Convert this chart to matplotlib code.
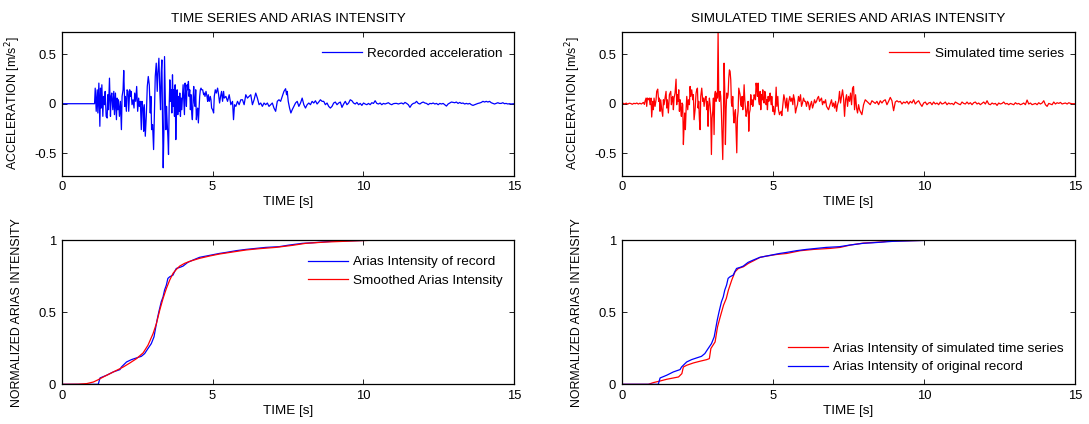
import numpy as np
import matplotlib
matplotlib.use("Agg")
import matplotlib.pyplot as plt

plt.rcParams["font.family"] = ["Liberation Sans", "DejaVu Sans"]
plt.rcParams["axes.unicode_minus"] = False

# ---------------------------------------------------------------- data
# Recorded acceleration [m/s^2]: strong-motion part (explicit times)
rec_t = [0.0, 1.088, 1.110, 1.143, 1.176, 1.198, 1.231, 1.264, 1.286, 1.308, 1.330, 1.363, 1.385,
         1.418, 1.440, 1.473, 1.506, 1.528, 1.550, 1.583, 1.616, 1.638, 1.660, 1.693, 1.726, 1.748,
         1.781, 1.814, 1.836, 1.858, 1.880, 1.913, 1.946, 1.979, 2.001, 2.034, 2.056, 2.089, 2.111,
         2.144, 2.166, 2.199, 2.221, 2.254, 2.276, 2.298, 2.331, 2.364, 2.397, 2.419, 2.452, 2.485,
         2.518, 2.551, 2.573, 2.606, 2.639, 2.661, 2.694, 2.716, 2.738, 2.771, 2.804, 2.837, 2.870,
         2.903, 2.936, 2.958, 2.980, 3.013, 3.046, 3.068, 3.101, 3.134,
         3.167, 3.189, 3.222, 3.255, 3.277, 3.299, 3.321, 3.343, 3.365, 3.387, 3.409, 3.431, 3.453,
         3.475, 3.497, 3.519, 3.541, 3.563, 3.585, 3.607, 3.629, 3.651, 3.673, 3.695, 3.717, 3.739,
         3.761, 3.783, 3.805, 3.827, 3.849, 3.871, 3.893, 3.915, 3.937, 3.959, 3.981, 4.003, 4.025,
         4.047, 4.069, 4.091, 4.113, 4.135, 4.157, 4.179, 4.201, 4.223, 4.245, 4.267, 4.289, 4.311,
         4.333, 4.355, 4.377, 4.399, 4.421, 4.443, 4.465, 4.487, 4.509, 4.531, 4.553, 4.575, 4.597,
         4.619, 4.641, 4.674, 4.707, 4.729, 4.751, 4.784, 4.817, 4.839, 4.861, 4.894, 4.927, 4.949,
         4.971, 5.004, 5.037, 5.059, 5.092, 5.125, 5.169, 5.202, 5.235, 5.268, 5.301, 5.334, 5.367,
         5.389, 5.444, 5.499, 5.554, 5.609, 5.664, 5.697, 5.730, 5.774, 5.829, 5.884, 5.939, 5.994,
         6.049, 6.104, 6.159, 6.214, 6.269, 6.324, 6.379, 6.434, 6.489, 6.544, 6.599, 6.654, 6.709,
         6.764, 6.819, 6.874, 6.929, 6.984, 7.039, 7.094, 7.149, 7.204, 7.259, 7.314, 7.369, 7.424,
         7.457, 7.479, 7.512, 7.556, 7.600, 7.644, 7.699, 7.754, 7.809, 7.864, 7.919, 7.974, 8.029]
rec_a = [0.0, 0.0, 0.158, -0.077, 0.141, -0.094, 0.209, -0.229, 0.158, -0.044, 0.192, -0.128, 0.074,
         -0.010, 0.125, -0.128, -0.145, 0.091, -0.061, 0.259, -0.128, 0.074, 0.108, -0.061, 0.125, -0.111,
         0.108, -0.162, 0.057, -0.061, 0.040, -0.128, 0.024, -0.263, 0.074, 0.141, 0.337, -0.027, 0.074,
         -0.077, 0.141, 0.125, -0.077, 0.141, 0.074, 0.125, -0.010, 0.040, -0.044, 0.108, 0.024, 0.175,
         -0.077, 0.057, -0.027, 0.024, -0.263, 0.024, -0.044, -0.279, -0.010, -0.330, -0.128, 0.175, 0.276,
         0.192, -0.094, 0.074, -0.263, -0.212, -0.465, -0.178, 0.276, 0.411,
         0.125, 0.310, 0.461, 0.108, -0.061, 0.310, 0.444, -0.162, -0.650, -0.296, 0.478, 0.074, -0.263,
         -0.027, -0.195, -0.330, -0.515, -0.027, 0.242, 0.024, 0.141, -0.094, 0.293, -0.027, 0.141, -0.128,
         0.192, -0.364, 0.007, 0.141, -0.111, 0.074, -0.077, 0.108, -0.128, 0.057, -0.061, 0.074, 0.192,
         0.040, -0.111, 0.209, 0.108, -0.027, 0.192, 0.141, 0.226, 0.074, 0.141, -0.061, 0.091, -0.094,
         -0.162, 0.040, 0.175, 0.007, -0.027, 0.141, -0.162, -0.077, -0.044, -0.195, -0.061, 0.074, 0.141,
         0.158, 0.141, 0.141, 0.091, 0.108, 0.074, 0.125, 0.074, 0.024, 0.091, 0.024, 0.074, 0.040,
         -0.044, -0.061, -0.094, 0.074, 0.141, 0.108, 0.158, 0.091, 0.007, 0.074, 0.125, 0.024, 0.125,
         0.057, 0.074, 0.024, 0.091, -0.010, 0.024, -0.162, -0.010, -0.027, 0.024, -0.010, 0.040, 0.040,
         -0.010, 0.091, 0.057, 0.074, 0.091, -0.010, 0.040, 0.108, 0.057, -0.010, 0.007, -0.027, 0.007,
         -0.010, 0.007, -0.027, -0.010, 0.007, -0.044, -0.077, 0.024, 0.040, 0.024, 0.074, 0.125, 0.152,
         0.091, 0.125, 0.024, -0.044, -0.094, -0.061, -0.027, 0.007, 0.024, -0.027, 0.007, 0.057, -0.010]

# Recorded acceleration: low-amplitude coda, equally spaced from 8.08 s to 14.90 s
rec_tail_start, rec_tail_end = 8.084, 14.904
rec_tail = [-0.044, -0.010, 0.007, -0.010, 0.024, 0.007, 0.030, -0.003, 0.017, 0.040, 0.024, 0.024,
            -0.010, 0.007, -0.027, -0.044, -0.027, 0.007, 0.017, -0.010, 0.007, 0.017, -0.037, -0.003,
            0.024, -0.010, 0.007, 0.040, 0.030, 0.007, -0.003, 0.013, -0.010, 0.003, -0.017, 0.007,
            -0.003, -0.010, 0.003, -0.010, 0.010, 0.003, 0.030, 0.003, -0.003, 0.007, -0.010, 0.003,
            -0.003, 0.003, 0.010, -0.003, -0.010, 0.000, 0.003, 0.003, -0.003, 0.003, 0.007, -0.003,
            0.013, 0.003, -0.010, -0.037, -0.010, 0.003, 0.007, 0.024, 0.003, -0.003, 0.010, 0.017,
            0.007, 0.003, -0.010, 0.003, 0.000, 0.007, -0.003, 0.003, -0.010, 0.003, -0.003, 0.003,
            -0.010, -0.024, -0.003, 0.007, 0.017, 0.013, 0.010, 0.017, 0.003, 0.013, 0.003, 0.007,
            -0.003, 0.003, -0.003, 0.003, -0.010, -0.017, -0.010, -0.003, 0.003, 0.007, 0.013, 0.024,
            0.017, 0.024, 0.017, 0.024, 0.010, 0.003, -0.003, 0.003, 0.010, 0.003, 0.003, 0.010,
            0.000, 0.003, -0.003, 0.000, -0.003]

# Simulated acceleration [m/s^2]: strong-motion part (explicit times)
sim_t = [0.0, 0.05, 0.10, 0.15, 0.20, 0.25, 0.30, 0.35, 0.40, 0.45, 0.50, 0.55, 0.60, 0.65,
         0.716, 0.750, 0.772, 0.805, 0.827, 0.849, 0.882, 0.915, 0.937, 0.970, 0.992, 1.026, 1.048,
         1.070, 1.103, 1.136, 1.158, 1.191, 1.224, 1.246, 1.268, 1.290, 1.324, 1.357, 1.379, 1.401,
         1.434, 1.467, 1.489, 1.511, 1.544, 1.578, 1.600, 1.622, 1.644, 1.666, 1.688, 1.710, 1.732,
         1.765, 1.798, 1.820, 1.842, 1.864, 1.887, 1.909, 1.931, 1.953, 1.975, 1.997, 2.019, 2.041,
         2.063, 2.085, 2.107, 2.130, 2.152, 2.185, 2.207, 2.240, 2.262, 2.284, 2.317, 2.350, 2.372,
         2.394, 2.428, 2.461, 2.483, 2.505, 2.527, 2.549, 2.571, 2.593, 2.615, 2.648, 2.682, 2.704,
         2.726, 2.759, 2.791, 2.813, 2.835, 2.857, 2.879, 2.902, 2.924, 2.946, 2.968, 2.990, 3.012,
         3.034, 3.056, 3.078, 3.100, 3.122, 3.144, 3.166, 3.189, 3.211, 3.233, 3.255, 3.277, 3.299,
         3.321, 3.343, 3.365, 3.387, 3.409, 3.431, 3.454, 3.476, 3.498, 3.520, 3.542, 3.564, 3.586,
         3.608, 3.630, 3.652, 3.674, 3.696, 3.718, 3.741, 3.763, 3.785, 3.807, 3.829, 3.851, 3.873,
         3.895, 3.917, 3.939, 3.961, 3.983, 4.006, 4.028, 4.050, 4.072, 4.094, 4.116, 4.138, 4.160,
         4.182, 4.204, 4.226, 4.248, 4.270, 4.293, 4.315, 4.337, 4.359, 4.381, 4.403, 4.425, 4.447,
         4.469, 4.491, 4.513, 4.535, 4.558, 4.580, 4.602, 4.624, 4.646, 4.668, 4.690, 4.712, 4.734,
         4.756, 4.778, 4.800, 4.822, 4.845, 4.867, 4.889, 4.911, 4.944, 4.966, 5.000, 5.021, 5.055,
         5.077, 5.110, 5.132, 5.165, 5.187, 5.220, 5.242, 5.275, 5.297, 5.331, 5.364, 5.397, 5.430,
         5.463, 5.496, 5.529, 5.562, 5.595, 5.629, 5.662, 5.684, 5.717, 5.750, 5.783, 5.816, 5.849,
         5.882, 5.916, 5.949, 5.982, 6.015, 6.048, 6.081, 6.114, 6.147, 6.181, 6.214, 6.247, 6.280,
         6.313, 6.346, 6.379, 6.412, 6.446, 6.479, 6.512, 6.545, 6.578, 6.611, 6.644, 6.677, 6.711,
         6.744, 6.777, 6.810, 6.843, 6.876, 6.909, 6.942, 6.975, 7.009, 7.042, 7.075, 7.108, 7.141,
         7.174, 7.207, 7.240, 7.274, 7.307, 7.340, 7.373, 7.406, 7.439, 7.472, 7.505, 7.539, 7.572,
         7.605, 7.638, 7.671, 7.704, 7.737, 7.770, 7.803, 7.837, 7.870, 7.892, 7.947, 8.002, 8.058]
sim_a = [0.0, 0.004, -0.003, 0.006, -0.004, 0.005, 0.002, -0.006, 0.004, 0.0, 0.007, -0.004, 0.005, -0.003,
         0.013, -0.007, 0.024, 0.057, -0.027, 0.057, 0.040, 0.057, -0.010, 0.057, -0.135, 0.024, -0.061,
         0.057, -0.027, 0.040, 0.125, 0.148, 0.024, 0.057, -0.077, 0.040, -0.061, -0.128, 0.040, -0.010,
         0.057, 0.125, -0.044, 0.040, -0.094, 0.091, 0.108, 0.125, -0.010, 0.057, 0.074, -0.061, 0.057,
         0.108, 0.249, -0.010, 0.091, 0.024, 0.141, -0.077, 0.040, -0.061, -0.128, 0.007, -0.010, -0.414,
         -0.229, -0.094, -0.263, -0.061, 0.074, -0.061, 0.040, -0.010, 0.175, 0.074, 0.141, 0.040, 0.091,
         -0.162, -0.061, 0.108, 0.141, 0.158, -0.044, 0.024, -0.162, -0.263, 0.074, 0.158, 0.024, 0.057,
         -0.027, 0.057, 0.074, -0.061, 0.024, -0.229, -0.027, 0.057, -0.010, -0.111, -0.515, -0.145, -0.077,
         0.057, -0.313, 0.091, 0.125, 0.024, 0.108, 0.057, 0.730, 0.074, 0.024, 0.125, 0.074, -0.094,
         -0.347, -0.566, -0.162, 0.411, 0.141, -0.414, -0.061, 0.108, 0.057, 0.091, 0.259, 0.343, 0.327,
         0.242, 0.007, -0.027, 0.074, -0.111, -0.195, -0.094, -0.061, -0.263, -0.498, -0.145, -0.077, 0.158,
         0.125, 0.091, -0.010, -0.027, 0.074, -0.061, 0.024, 0.192, 0.040, -0.044, -0.128, -0.094, -0.027,
         0.024, -0.279, -0.094, -0.061, 0.091, -0.010, 0.040, -0.027, 0.024, 0.091, 0.074, 0.040, 0.209,
         0.158, 0.074, 0.209, 0.024, -0.010, 0.125, -0.061, 0.091, 0.040, 0.141, 0.024, 0.007, 0.125,
         0.091, -0.010, 0.040, -0.061, 0.074, 0.024, 0.057, 0.108, -0.010, 0.074, -0.077, -0.027, -0.111,
         -0.077, 0.168, -0.027, 0.074, -0.061, -0.111, -0.094, -0.077, -0.121, -0.010, 0.091, 0.040, -0.044,
         0.057, -0.077, 0.024, 0.074, 0.024, 0.057, -0.010, 0.091, 0.040, -0.094, -0.044, -0.010, 0.074,
         0.024, 0.091, -0.027, 0.007, 0.057, 0.024, 0.024, -0.027, 0.024, 0.007, -0.061, -0.010, 0.024,
         -0.044, -0.010, 0.040, 0.007, 0.024, 0.057, 0.074, 0.024, 0.040, 0.057, -0.010, 0.024, 0.007,
         0.040, -0.027, -0.044, -0.061, -0.027, 0.007, 0.040, -0.027, 0.007, -0.044, 0.024, -0.077, -0.010,
         0.024, 0.125, 0.007, 0.074, 0.141, 0.057, -0.128, 0.040, 0.091, -0.027, 0.074, 0.024, 0.108,
         -0.010, 0.158, 0.175, -0.061, 0.091, -0.044, -0.094, -0.010, -0.061, -0.077, -0.111, -0.010, 0.040]

# Simulated acceleration: low-amplitude coda, equally spaced from 8.11 s to 14.96 s
sim_tail_start, sim_tail_end = 8.113, 14.958
sim_tail = [0.024, 0.007, -0.010, 0.030, 0.017, 0.003, 0.024, -0.010, 0.030, 0.007, 0.030, 0.040,
            -0.010, 0.024, 0.064, 0.030, -0.071, 0.017, 0.030, 0.017, 0.024, -0.003, 0.017, 0.007,
            0.024, -0.003, 0.024, 0.007, 0.040, -0.003, 0.017, 0.030, -0.003, -0.027, 0.007, 0.017,
            -0.010, 0.007, 0.013, -0.010, 0.017, -0.003, 0.007, -0.010, 0.017, -0.003, 0.003, 0.017,
            -0.010, 0.007, -0.003, 0.003, -0.010, 0.017, 0.007, -0.003, -0.010, 0.017, 0.003, -0.003,
            0.017, -0.003, 0.010, -0.010, 0.010, 0.017, -0.003, 0.007, -0.010, 0.003, 0.017, -0.003,
            0.030, -0.003, -0.010, 0.007, -0.003, 0.003, -0.017, 0.007, -0.003, 0.003, 0.017, -0.003,
            0.003, -0.010, 0.003, -0.003, -0.010, 0.010, -0.003, 0.003, -0.010, -0.003, 0.007, -0.010,
            0.037, -0.003, 0.007, -0.010, -0.003, 0.003, -0.010, 0.010, -0.003, 0.007, 0.030, -0.010,
            -0.027, 0.003, -0.003, -0.010, 0.017, -0.003, 0.010, 0.003, 0.013, -0.003, 0.003, 0.007,
            -0.003, 0.010, 0.003, 0.000, 0.000]

# Normalized Arias intensity of the record
ai_rec_t = [0.0, 1.21, 1.27, 1.49, 1.71, 1.93, 1.98, 2.15, 2.31, 2.48, 2.64, 2.75, 2.86, 2.97, 3.06,
            3.10, 3.16, 3.22, 3.30, 3.36, 3.41, 3.47, 3.52, 3.58, 3.69, 3.74, 3.80, 3.91, 4.02, 4.18,
            4.35, 4.57, 4.79, 5.01, 5.23, 5.45, 5.78, 6.11, 6.44, 6.77, 7.21, 7.54, 7.98, 8.31, 8.97,
            9.63, 10.50, 15.0]
ai_rec = [0.0, 0.0, 0.044, 0.063, 0.086, 0.102, 0.120, 0.155, 0.171, 0.183, 0.194, 0.213, 0.248, 0.282,
          0.329, 0.375, 0.444, 0.502, 0.572, 0.606, 0.653, 0.688, 0.734, 0.745, 0.757, 0.780, 0.803,
          0.810, 0.819, 0.845, 0.861, 0.880, 0.889, 0.898, 0.907, 0.914, 0.926, 0.935, 0.942, 0.949,
          0.954, 0.965, 0.977, 0.981, 0.991, 0.995, 1.0, 1.0]

# Smoothed Arias intensity of the record
ai_smooth_t = [0.0, 0.55, 0.83, 1.05, 1.21, 1.38, 1.60, 1.82, 2.04, 2.26, 2.48, 2.70, 2.86, 3.03, 3.14,
               3.25, 3.36, 3.47, 3.58, 3.69, 3.80, 3.91, 4.07, 4.24, 4.57, 4.90, 5.23, 5.67, 6.11, 6.55,
               7.10, 7.65, 8.09, 8.75, 9.85, 10.50, 15.0]
ai_smooth = [0.0, 0.001, 0.005, 0.016, 0.032, 0.051, 0.074, 0.097, 0.120, 0.148, 0.178, 0.218, 0.271,
             0.352, 0.421, 0.514, 0.595, 0.664, 0.722, 0.769, 0.796, 0.819, 0.838, 0.852, 0.873, 0.889,
             0.903, 0.917, 0.931, 0.940, 0.949, 0.963, 0.977, 0.986, 0.995, 1.0, 1.0]

# Normalized Arias intensity of the simulated time series
ai_sim_t = [0.0, 0.88, 1.05, 1.27, 1.49, 1.71, 1.88, 1.99, 2.04, 2.15, 2.37, 2.59, 2.81, 2.90, 2.95,
            3.09, 3.17, 3.26, 3.37, 3.46, 3.53, 3.64, 3.75, 3.86, 4.03, 4.19, 4.36, 4.58, 4.80, 5.13,
            5.46, 5.91, 6.35, 6.90, 7.23, 7.56, 8.00, 8.56, 8.89, 9.44, 10.50, 15.0]
ai_sim = [0.0, 0.0, 0.012, 0.023, 0.035, 0.044, 0.051, 0.074, 0.120, 0.132, 0.148, 0.160, 0.171, 0.178,
          0.248, 0.294, 0.398, 0.468, 0.549, 0.595, 0.653, 0.722, 0.780, 0.803, 0.815, 0.838, 0.856,
          0.880, 0.889, 0.900, 0.907, 0.926, 0.935, 0.942, 0.949, 0.965, 0.979, 0.986, 0.993, 0.995,
          1.0, 1.0]

# ---------------------------------------------------------------- helpers
BLUE = "#0000ff"
RED = "#ff0000"
FS = 9.7
TICK_FS = 9.4
YLABEL_FS = 8.9
YLABEL_X = -0.086


def style_axes(ax, ylim, yticks, yticklabels):
    ax.set_xlim(0, 15)
    ax.set_ylim(*ylim)
    ax.set_xticks([0, 5, 10, 15])
    ax.set_yticks(yticks)
    ax.set_yticklabels(yticklabels)
    ax.tick_params(direction="in", top=True, right=True, length=3.5, width=0.6,
                   labelsize=TICK_FS, pad=4)
    for sp in ax.spines.values():
        sp.set_linewidth(0.9)
    ax.set_xlabel("TIME [s]", fontsize=FS, labelpad=2)


def set_ylabel(ax, text):
    ax.set_ylabel(text, fontsize=YLABEL_FS)
    ax.yaxis.set_label_coords(YLABEL_X, 0.5)


def add_legend(ax, anchor):
    return ax.legend(loc="upper right", bbox_to_anchor=anchor, frameon=False, fontsize=FS,
                     handlelength=3.0, handletextpad=0.38, labelspacing=0.45, borderaxespad=0.0,
                     borderpad=0.0)


fig = plt.figure(figsize=(10.89, 4.24), dpi=100)
ax_tl = fig.add_axes([0.0567, 0.5856, 0.4153, 0.3396])
ax_tr = fig.add_axes([0.5709, 0.5856, 0.4163, 0.3396])
ax_bl = fig.add_axes([0.0567, 0.0936, 0.4153, 0.3403])
ax_br = fig.add_axes([0.5709, 0.0936, 0.4163, 0.3403])

acc_ylim = (-0.73, 0.73)
acc_ticks = [-0.5, 0, 0.5]
acc_labels = ["-0.5", "0", "0.5"]
ai_ticks = [0, 0.5, 1]
ai_labels = ["0", "0.5", "1"]

# recorded acceleration
t_rec = np.concatenate([rec_t, np.linspace(rec_tail_start, rec_tail_end, len(rec_tail)), [15.0]])
a_rec = np.concatenate([rec_a, rec_tail, [0.0]])
ax_tl.plot(t_rec, a_rec, color=BLUE, lw=0.9, label="Recorded acceleration")
style_axes(ax_tl, acc_ylim, acc_ticks, acc_labels)
set_ylabel(ax_tl, "ACCELERATION [m/s$^2$]")
ax_tl.set_title("TIME SERIES AND ARIAS INTENSITY", fontsize=FS, pad=7)
add_legend(ax_tl, (0.975, 0.89))

# simulated acceleration
t_sim = np.concatenate([sim_t, np.linspace(sim_tail_start, sim_tail_end, len(sim_tail)), [15.0]])
a_sim = np.concatenate([sim_a, sim_tail, [0.0]])
ax_tr.plot(t_sim, a_sim, color=RED, lw=0.9, label="Simulated time series")
style_axes(ax_tr, acc_ylim, acc_ticks, acc_labels)
set_ylabel(ax_tr, "ACCELERATION [m/s$^2$]")
ax_tr.set_title("SIMULATED TIME SERIES AND ARIAS INTENSITY", fontsize=FS, pad=7)
add_legend(ax_tr, (0.975, 0.89))

# Arias intensity of record and its smoothed version
ax_bl.plot(ai_rec_t, ai_rec, color=BLUE, lw=0.9, label="Arias Intensity of record")
ax_bl.plot(ai_smooth_t, ai_smooth, color=RED, lw=0.9, label="Smoothed Arias Intensity")
style_axes(ax_bl, (0, 1), ai_ticks, ai_labels)
set_ylabel(ax_bl, "NORMALIZED ARIAS INTENSITY")
add_legend(ax_bl, (0.975, 0.89))

# Arias intensity, simulated vs original
ax_br.plot(ai_sim_t, ai_sim, color=RED, lw=0.9, label="Arias Intensity of simulated time series")
ax_br.plot(ai_rec_t, ai_rec, color=BLUE, lw=0.9, label="Arias Intensity of original record")
style_axes(ax_br, (0, 1), ai_ticks, ai_labels)
set_ylabel(ax_br, "NORMALIZED ARIAS INTENSITY")
add_legend(ax_br, (0.975, 0.29))

fig.savefig("out.png", dpi=100)
